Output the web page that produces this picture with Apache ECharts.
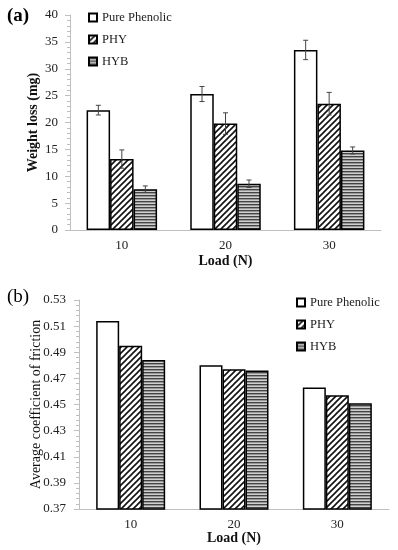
<!DOCTYPE html>
<html>
<head>
<meta charset="utf-8">
<script src="https://cdn.jsdelivr.net/npm/echarts@6/dist/echarts.min.js"></script>
<style>html,body{margin:0;padding:0;background:#fff}#c{width:398px;height:550px}</style>
</head>
<body>
<div id="c"></div>
<script>
// ---- data ----
const loads = ['10', '20', '30'];
const seriesNames = ['Pure Phenolic', 'PHY', 'HYB'];
const weightPure = [22.3, 25.3, 33.5];
const weightPHY = [13.2, 19.8, 23.5];
const weightHYB = [7.6, 8.6, 14.8];
const errPure = [0.9, 1.4, 1.8];
const errPHY = [1.7, 2.0, 2.1];
const errHYB = [0.6, 0.7, 0.65];
const cofPure = [0.514, 0.480, 0.463];
const cofPHY = [0.495, 0.477, 0.457];
const cofHYB = [0.484, 0.476, 0.451];
const cofTicks = [0.37, 0.39, 0.41, 0.43, 0.45, 0.47, 0.49, 0.51, 0.53];

// ---- patterns ----
function diagPattern() {
  const c = document.createElement('canvas');
  c.width = 6; c.height = 6;
  const g = c.getContext('2d');
  g.fillStyle = '#fff'; g.fillRect(0, 0, 6, 6);
  g.strokeStyle = '#111'; g.lineWidth = 1.6;
  g.beginPath();
  g.moveTo(-1, 7); g.lineTo(7, -1);
  g.moveTo(-1, 1); g.lineTo(1, -1);
  g.moveTo(5, 7); g.lineTo(7, 5);
  g.stroke();
  return c;
}
function horizPattern() {
  const c = document.createElement('canvas');
  c.width = 4; c.height = 3;
  const g = c.getContext('2d');
  g.fillStyle = '#cfcfcf'; g.fillRect(0, 0, 4, 3);
  g.fillStyle = '#444'; g.fillRect(0, 0, 4, 1.4);
  return c;
}
const fills = ['#ffffff', { image: diagPattern(), repeat: 'repeat' }, { image: horizPattern(), repeat: 'repeat' }];

const FONT = 'Liberation Serif';
const BW_A = 23.5, BW_B = 23;
const weightData = [weightPure, weightPHY, weightHYB];
const errData = [errPure, errPHY, errHYB];
const cofData = [cofPure, cofPHY, cofHYB];

const series = [];
seriesNames.forEach((n, i) => {
  series.push({
    name: n, type: 'bar', xAxisIndex: 0, yAxisIndex: 0,
    data: weightData[i], barWidth: BW_A, barGap: '0%',
    itemStyle: { color: fills[i], borderColor: '#000', borderWidth: 1.5 },
    animation: false
  });
});
seriesNames.forEach((n, i) => {
  series.push({
    name: n + ' err', type: 'custom', xAxisIndex: 0, yAxisIndex: 0,
    data: loads.map((l, k) => [k, weightData[i][k], errData[i][k]]),
    renderItem: function (params, api) {
      const k = api.value(0), v = api.value(1), e = api.value(2);
      const top = api.coord([k, v + e]);
      const bot = api.coord([k, v - e]);
      const x = top[0] + (i - 1) * BW_A;
      const st = { stroke: '#444', lineWidth: 1 };
      return { type: 'group', children: [
        { type: 'line', shape: { x1: x, y1: top[1], x2: x, y2: bot[1] }, style: st },
        { type: 'line', shape: { x1: x - 2.5, y1: top[1], x2: x + 2.5, y2: top[1] }, style: st },
        { type: 'line', shape: { x1: x - 2.5, y1: bot[1], x2: x + 2.5, y2: bot[1] }, style: st }
      ]};
    },
    z: 5, animation: false, silent: true
  });
});
seriesNames.forEach((n, i) => {
  series.push({
    name: n, type: 'bar', xAxisIndex: 1, yAxisIndex: 1,
    data: cofData[i], barWidth: BW_B, barGap: '0%',
    itemStyle: { color: fills[i], borderColor: '#000', borderWidth: 1.5 },
    animation: false
  });
});

const labelStyle = { fontFamily: FONT, fontSize: 13, color: '#222' };
const nameStyleBold = { fontFamily: FONT, fontSize: 14, fontWeight: 'bold', color: '#111' };
const nameStyle = { fontFamily: FONT, fontSize: 14, color: '#111' };
const axisGray = '#bfbfbf';
const legendText = { fontFamily: FONT, fontSize: 12.5, color: '#222' };

const option = {
  backgroundColor: '#fff',
  animation: false,
  grid: [
    { left: 70, top: 15, width: 311, height: 215 },
    { left: 79, top: 300, width: 310, height: 209 }
  ],
  xAxis: [
    { type: 'category', gridIndex: 0, data: loads,
      axisLine: { lineStyle: { color: axisGray } }, axisTick: { show: false },
      axisLabel: Object.assign({ margin: 9 }, labelStyle),
      name: 'Load (N)', nameLocation: 'middle', nameGap: 24, nameMoveOverlap: false, nameTextStyle: nameStyleBold },
    { type: 'category', gridIndex: 1, data: loads,
      axisLine: { lineStyle: { color: axisGray } }, axisTick: { show: false },
      axisLabel: Object.assign({ margin: 9 }, labelStyle),
      name: 'Load (N)', nameLocation: 'middle', nameGap: 22, nameMoveOverlap: false, nameTextStyle: nameStyleBold }
  ],
  yAxis: [
    { type: 'value', gridIndex: 0, min: 0, max: 40, interval: 5,
      axisLine: { show: true, lineStyle: { color: axisGray } },
      axisTick: { show: true, length: 5, lineStyle: { color: axisGray } },
      minorTick: { show: true, splitNumber: 5, length: 3, lineStyle: { color: axisGray } },
      splitLine: { show: false },
      axisLabel: Object.assign({ margin: 12 }, labelStyle),
      name: 'Weight loss (mg)', nameLocation: 'middle', nameGap: 30, nameMoveOverlap: false, nameTextStyle: nameStyleBold },
    { type: 'value', gridIndex: 1, min: 0.37, max: 0.53, position: 'left',
      axisLine: { show: true, lineStyle: { color: axisGray } },
      axisTick: { show: false },
      splitLine: { show: false },
      axisLabel: Object.assign({ margin: 13, customValues: cofTicks, formatter: v => v.toFixed(2) }, labelStyle),
      name: 'Average coefficient of friction', nameLocation: 'middle', nameGap: 36, nameMoveOverlap: false, nameTextStyle: nameStyle },
    // tick helper axis for chart (b): same span (0.16) starting at 0 so ticks fall on the labels
    { type: 'value', gridIndex: 1, min: 0, max: 0.16, interval: 0.02, position: 'left',
      axisLine: { show: false },
      axisTick: { show: true, length: 5, lineStyle: { color: axisGray } },
      minorTick: { show: true, splitNumber: 5, length: 3, lineStyle: { color: axisGray } },
      splitLine: { show: false }, axisLabel: { show: false } }
  ],
  legend: [
    { orient: 'vertical', left: 88, top: 11, padding: 0, itemGap: 9, itemWidth: 8, itemHeight: 8,
      icon: 'rect', data: seriesNames, textStyle: legendText },
    { orient: 'vertical', left: 296, top: 296, padding: 0, itemGap: 9, itemWidth: 8, itemHeight: 8,
      icon: 'rect', data: seriesNames, textStyle: legendText }
  ],
  graphic: [
    { type: 'text', left: 7, top: 7, style: { text: '(a)', fontFamily: FONT, fontSize: 19, fontWeight: 'bold', fill: '#000' } },
    { type: 'text', left: 7, top: 288, style: { text: '(b)', fontFamily: FONT, fontSize: 19, fill: '#000' } }
  ],
  series: series
};
const chart = echarts.init(document.getElementById('c'), null, { renderer: 'canvas' });
chart.setOption(option);
</script>
</body>
</html>
